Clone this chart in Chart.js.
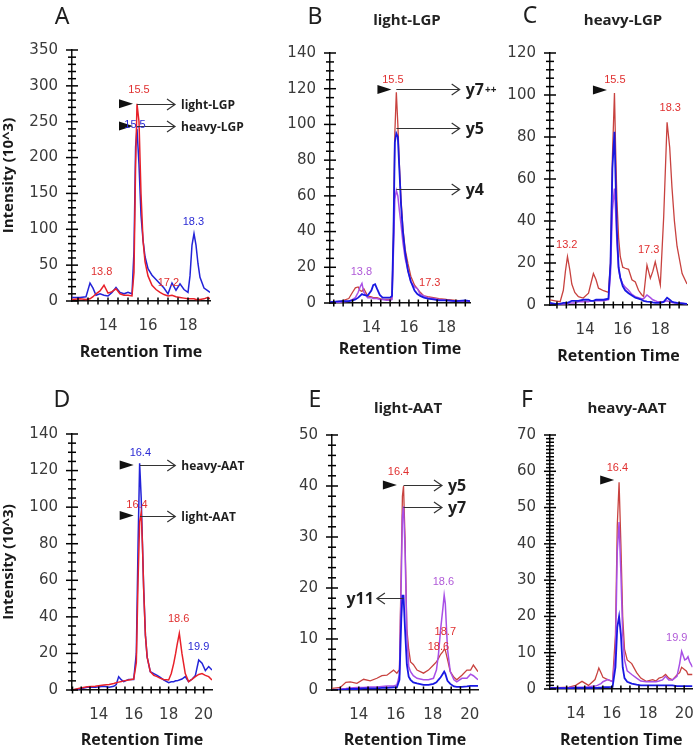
<!DOCTYPE html>
<html>
<head>
<meta charset="utf-8">
<script src="https://cdn.jsdelivr.net/npm/chart.js@4.4.0/dist/chart.umd.min.js"></script>
<style>
  body { margin: 0; background: #fff; }
  canvas { position: absolute; }
  .letter { position: absolute; font: 23px "Noto Sans", sans-serif; color: #1e1e1e; transform: translate(-50%, -50%); line-height: 1; }
  .ptitle { position: absolute; font: bold 15px "Open Sans", sans-serif; color: #222; transform: translate(-50%, -50%); line-height: 1; white-space: nowrap; }
</style>
</head>
<body>
<canvas id="chartA"></canvas>
<canvas id="chartB"></canvas>
<canvas id="chartC"></canvas>
<canvas id="chartD"></canvas>
<canvas id="chartE"></canvas>
<canvas id="chartF"></canvas>
<div class="letter" style="left:62px;top:15px">A</div>
<div class="letter" style="left:315px;top:15px">B</div>
<div class="letter" style="left:530px;top:14px">C</div>
<div class="letter" style="left:62px;top:398px">D</div>
<div class="letter" style="left:315px;top:398px">E</div>
<div class="letter" style="left:527px;top:398px">F</div>
<div class="ptitle" style="left:407px;top:19px">light-LGP</div>
<div class="ptitle" style="left:623px;top:19px">heavy-LGP</div>
<div class="ptitle" style="left:408px;top:407px">light-AAT</div>
<div class="ptitle" style="left:627px;top:407px">heavy-AAT</div>
<script>
// ---- A: LGP, light vs heavy peptide
const timeA = [12.2, 12.6, 12.9, 13.1, 13.25, 13.4, 13.6, 13.8, 14.0, 14.2, 14.4, 14.6, 14.8, 15.0, 15.2, 15.3, 15.38, 15.45, 15.55, 15.65, 15.75, 15.85, 16.0, 16.2, 16.4, 16.6, 16.8, 17.0, 17.2, 17.4, 17.6, 17.8, 18.0, 18.1, 18.2, 18.3, 18.4, 18.5, 18.6, 18.8, 19.0, 19.1];
const lightA = [2, 3, 2, 3, 6, 10, 14, 22, 11, 13, 17, 10, 8, 8, 7, 40, 190, 275, 250, 150, 85, 55, 35, 22, 16, 12, 9, 7, 8, 6, 5, 4, 3, 3, 3, 3, 2, 2, 2, 3, 5, 3];
const heavyA = [5, 5, 6, 25, 18, 8, 10, 8, 7, 12, 19, 12, 10, 12, 10, 70, 215, 240, 190, 120, 85, 62, 45, 36, 30, 24, 18, 10, 25, 15, 24, 16, 12, 35, 78, 94, 78, 52, 33, 18, 14, 12];

// ---- B: light-LGP fragments
const timeB = [11.8, 12.4, 12.8, 13.0, 13.15, 13.3, 13.4, 13.5, 13.6, 13.8, 14.0, 14.1, 14.2, 14.3, 14.45, 14.6, 14.8, 15.0, 15.1, 15.18, 15.25, 15.33, 15.41, 15.49, 15.58, 15.68, 15.8, 15.95, 16.1, 16.3, 16.45, 16.6, 16.8, 17.0, 17.3, 17.6, 18.0, 18.5, 19.0, 19.25];
const y7ppB = [0.5, 1, 2.5, 6, 8.5, 9, 7, 6.5, 8, 4, 3.5, 3, 3, 3, 2.5, 2, 2, 2, 3, 40, 95, 118, 100, 78, 58, 42, 30, 22, 15, 10, 8, 6, 4, 3.5, 3, 2.5, 2, 1.5, 1, 1];
const y4B = [0, 0.5, 1, 2, 3, 6, 9, 11, 6, 3, 3, 2.5, 2.5, 2.5, 2, 2, 1.5, 1.5, 2, 30, 58, 63, 60, 52, 44, 34, 25, 18, 12, 9, 8, 5, 4, 3, 2.5, 2, 1.5, 1, 1, 1];
const y5B = [0.5, 1, 1, 1.5, 2, 3, 4, 5, 4.5, 4, 7, 10, 10.5, 8, 4.5, 3, 3, 3, 4, 40, 90, 95, 93, 75, 55, 40, 28, 18, 12, 7, 5, 4, 3, 2.5, 2, 1.5, 1.5, 1, 1.5, 1];

// ---- C: heavy-LGP fragments
const timeC = [12.13, 12.4, 12.67, 12.84, 12.95, 13.06, 13.18, 13.29, 13.45, 13.64, 13.9, 14.18, 14.3, 14.44, 14.58, 14.71, 14.98, 15.24, 15.35, 15.45, 15.56, 15.62, 15.69, 15.78, 15.87, 16.0, 16.13, 16.31, 16.49, 16.67, 16.84, 17.0, 17.11, 17.29, 17.47, 17.6, 17.73, 17.87, 18.0, 18.18, 18.36, 18.5, 18.62, 18.75, 18.89, 19.16, 19.42];
const redC = [2.4, 2, 1.6, 7, 16, 23, 17, 10, 6, 4, 3.3, 5.6, 10, 15, 12, 8, 6.8, 6, 20, 70, 101, 75, 50, 32, 23, 18, 17.5, 17, 12, 11, 7, 5, 4, 19, 12.7, 16, 20.6, 15, 9.5, 42, 87, 75, 56, 40, 28, 15, 10];
const purpleC = [0.5, 0.5, 0.5, 0.5, 0.5, 0.5, 1, 1, 1, 1.5, 1.5, 1.5, 2, 2, 2, 2, 2, 2.5, 15, 45, 55.5, 45, 30, 17, 13, 10, 8.5, 7, 5, 4, 3.5, 3, 3, 4.8, 3.5, 2.5, 2, 1.5, 1.5, 1.5, 2, 1.5, 1.2, 1, 1, 0.8, 0.5];
const blueC = [1, 0.5, 0.5, 1, 1, 1, 1.5, 2, 2, 2, 2.5, 2.5, 2, 2, 2.5, 2.5, 2.5, 3, 20, 65, 82.5, 60, 35, 18, 13, 9, 7, 5.6, 4.5, 3.5, 3, 2.5, 2, 1.6, 1.5, 1.2, 1, 1, 1, 1.5, 3.5, 2.5, 1.6, 1.2, 1, 0.8, 0.5];

// ---- D: AAT, light vs heavy peptide
const timeD = [12.47, 12.9, 13.34, 13.8, 14.29, 14.6, 14.86, 15.0, 15.14, 15.3, 15.43, 15.71, 16.0, 16.15, 16.25, 16.34, 16.43, 16.5, 16.57, 16.67, 16.77, 16.95, 17.15, 17.34, 17.5, 17.71, 18.0, 18.15, 18.29, 18.4, 18.48, 18.61, 18.76, 18.95, 19.14, 19.35, 19.53, 19.72, 19.91, 20.1, 20.29, 20.48];
const lightD = [0, 1, 1.8, 2, 2.7, 3, 3.6, 4, 4.3, 4.6, 5, 5.5, 6, 15, 60, 92, 97, 80, 55, 30, 18, 10, 8, 7.3, 6.5, 5.8, 5.5, 9, 14.6, 20, 24.6, 31, 20, 9, 4.6, 6, 7.3, 8.5, 9, 8, 7.3, 5.5];
const heavyD = [0, 0.5, 1.5, 1.5, 2, 1.5, 2, 3, 7.3, 5.5, 4.6, 5.8, 5.8, 20, 80, 124, 105, 80, 56, 30, 18, 10, 9, 8, 7, 5.5, 4, 4.5, 4.5, 5, 5, 5.5, 6, 7.3, 4.6, 6, 8, 16.4, 14.6, 10.6, 12.8, 10.9];

// ---- E: light-AAT fragments
const timeE = [12.55, 13.0, 13.3, 13.54, 13.9, 14.26, 14.62, 14.98, 15.25, 15.52, 15.88, 16.06, 16.2, 16.3, 16.36, 16.42, 16.5, 16.6, 16.7, 16.8, 16.95, 17.15, 17.5, 17.77, 18.04, 18.2, 18.31, 18.43, 18.55, 18.62, 18.68, 18.8, 18.95, 19.15, 19.3, 19.58, 19.85, 20.05, 20.2, 20.45];
const y5E = [0.3, 0.5, 1.5, 1.6, 1.3, 2.1, 1.8, 2.3, 2.8, 2.9, 3.9, 3.3, 4, 25, 38, 40, 30, 12, 8, 5.5, 5, 3.9, 3.3, 3.9, 4.9, 5.5, 6.2, 7, 7.5, 8, 7.8, 6, 3.6, 2.5, 2, 2.9, 3.9, 3.9, 4.9, 3.6];
const y7E = [0, 0.2, 0.3, 0.4, 0.5, 0.5, 0.6, 0.6, 0.7, 0.8, 0.8, 1, 3, 22, 34, 36, 28, 11, 4.6, 3.6, 2.8, 2.3, 2, 2, 2.3, 3.9, 7, 12, 16, 18.6, 17, 8, 3.6, 2, 1.6, 2.3, 2.3, 3.1, 2.8, 2];
const y11E = [0, 0, 0.1, 0.2, 0.2, 0.3, 0.3, 0.3, 0.4, 0.4, 0.5, 0.5, 2, 14, 18.5, 18.5, 12, 5, 2.6, 2, 1.5, 1.3, 1, 1, 1.2, 1.5, 2, 2.5, 3.2, 3.6, 3.2, 1.8, 1.2, 0.7, 0.6, 0.6, 0.7, 0.8, 0.8, 0.8];

// ---- F: heavy-AAT fragments
const timeF = [12.58, 13.0, 13.64, 14.0, 14.35, 14.71, 15.07, 15.2, 15.28, 15.4, 15.51, 15.77, 16.04, 16.2, 16.3, 16.4, 16.5, 16.6, 16.7, 16.85, 17.1, 17.37, 17.6, 17.9, 18.26, 18.44, 18.61, 18.8, 18.97, 19.15, 19.35, 19.6, 19.75, 19.86, 20.03, 20.13, 20.21, 20.3, 20.46];
const redF = [0.3, 0.4, 0.5, 1, 2.1, 1, 2.6, 4.5, 5.8, 4.5, 3.2, 2.6, 2.1, 15, 45, 57, 40, 20, 11, 8, 7, 4.5, 3, 2.1, 2.6, 2.2, 3, 3.3, 4, 3, 2.5, 3.9, 4.5, 6, 5.3, 4.9, 4, 4, 4];
const purpleF = [0.3, 0.3, 0.4, 0.5, 0.5, 0.6, 0.8, 1, 1.2, 1.5, 2, 2.6, 2, 10, 38, 46, 32, 15, 8, 5, 4, 3, 2.2, 2, 2, 2, 2.2, 2.5, 3.5, 2.5, 2.5, 3.5, 7, 10.4, 8, 8.3, 8.9, 7.5, 6];
const blueF = [0.2, 0.2, 0.2, 0.3, 0.3, 0.3, 0.3, 0.3, 0.4, 0.4, 0.5, 0.5, 0.6, 6, 17, 20, 15, 6, 3, 2, 1.5, 1.2, 1, 1, 1, 1, 1, 1, 1, 1, 1, 0.8, 0.8, 0.8, 0.8, 0.8, 0.8, 0.8, 0.8];

// tick labels
const xTicksLGP = [14, 16, 18];
const xTicksAAT = [14, 16, 18, 20];
const yTicksA = [0, 50, 100, 150, 200, 250, 300, 350];
const yTicksB = [0, 20, 40, 60, 80, 100, 120, 140];
const yTicksC = [0, 20, 40, 60, 80, 100, 120];
const yTicksD = [0, 20, 40, 60, 80, 100, 120, 140];
const yTicksE = [0, 10, 20, 30, 40, 50];
const yTicksF = [0, 10, 20, 30, 40, 50, 60, 70];

// peak annotations (retention time, intensity)
const peaksA = [[15.55, 294, '15.5', 'red'], [15.35, 246, '15.5', 'blue'], [13.68, 41, '13.8', 'red'], [17.02, 25.5, '17.2', 'red'], [18.27, 110, '18.3', 'blue']];
const peaksB = [[15.15, 125, '15.5', 'red'], [13.47, 17.5, '13.8', 'purple'], [17.11, 11, '17.3', 'red']];
const peaksC = [[15.58, 107, '15.5', 'red'], [13.02, 28.6, '13.2', 'red'], [17.38, 26.2, '17.3', 'red'], [18.53, 93.7, '18.3', 'red']];
const peaksD = [[16.38, 129.6, '16.4', 'blue'], [16.19, 101.3, '16.4', 'red'], [18.57, 38.7, '18.6', 'red'], [19.71, 23.7, '19.9', 'blue']];
const peaksE = [[16.15, 42.8, '16.4', 'red'], [18.58, 21.2, '18.6', 'purple'], [18.68, 11.4, '18.7', 'red'], [18.31, 8.5, '18.6', 'red']];
const peaksF = [[16.31, 60.8, '16.4', 'red'], [19.59, 14, '19.9', 'purple']];

// arrows: [from, to, intensity, text]
const arrowsA = [[15.45, 17.35, 275, 'light-LGP'], [15.45, 17.35, 244, 'heavy-LGP']];
const arrowsB = [[15.33, 18.7, 119.6, 'y7++'], [15.33, 18.7, 97.8, 'y5'], [15.33, 18.7, 63.6, 'y4']];
const arrowsD = [[16.36, 18.38, 123, 'heavy-AAT'], [16.36, 18.38, 95.4, 'light-AAT']];
const arrowsE = [[16.42, 18.5, 40.2, 'y5'], [16.42, 18.5, 35.8, 'y7'], [16.42, 14.98, 18.1, 'y11']];

// black flags marking the apex: [time of tip, intensity]
const flagsA = [[15.25, 275], [15.25, 244]];
const flagsB = [[15.07, 119.6]];
const flagsC = [[15.16, 102.4]];
const flagsD = [[16.0, 123], [16.0, 95.4]];
const flagsE = [[16.06, 40.2]];
const flagsF = [[16.13, 57.6]];

const LINE = { red: '#e8212a', blue: '#2323d8', red2: '#c8423f', purple: '#a84fe6', blue2: '#1818e2' };
const TXT = { red: '#e03030', blue: '#2a2ad4', red2: '#c94848', purple: '#b05ad8' };

function series(times, values, color, width) {
    return {
        data: times.map((t, i) => ({ x: t, y: values[i] })),
        borderColor: color, borderWidth: width, pointRadius: 0, tension: 0, fill: false
    };
}

// tick marks as line-shaped points sitting on the axes, so the library places them
function tickSets(p, yMax) {
    const below = -yMax * 7 / (p.area[3] - p.area[1]);
    const base = {
        showLine: false, clip: false, pointStyle: 'line',
        pointBorderColor: '#000', pointBackgroundColor: '#000', pointBorderWidth: 1.5,
        borderColor: '#000', pointHoverRadius: 0
    };
    return [
        Object.assign({}, base, {
            data: p.yAll.map(v => ({ x: p.xMin, y: v })),
            pointRadius: p.yAll.map(v => (p.yTicks.includes(v) ? 6 : 4))
        }),
        Object.assign({}, base, {
            data: p.xAll.map(t => ({ x: t, y: 0 })),
            pointRadius: 3.5, pointRotation: 90
        }),
        Object.assign({}, base, {
            data: p.xTicks.map(t => ({ x: t, y: below })),
            pointRadius: 4.5, pointRotation: 90
        })
    ];
}

function marksPlugin(p) {
    return {
        id: 'marks',
        afterDatasetsDraw(chart) {
            const { ctx } = chart;
            const sx = chart.scales.x, sy = chart.scales.y;
            ctx.save();
            ctx.fillStyle = '#111';
            (p.flags || []).forEach(([t, v]) => {
                const px = sx.getPixelForValue(t), py = sy.getPixelForValue(v);
                ctx.beginPath(); ctx.moveTo(px, py); ctx.lineTo(px - 14, py - 4.5); ctx.lineTo(px - 14, py + 4.5); ctx.closePath(); ctx.fill();
            });
            ctx.strokeStyle = '#333';
            ctx.lineWidth = 1.2;
            ctx.textBaseline = 'middle';
            (p.arrows || []).forEach(([from, to, v, text]) => {
                const x0 = sx.getPixelForValue(from), x1 = sx.getPixelForValue(to);
                const py = Math.round(sy.getPixelForValue(v)) + 0.5;
                const d = Math.sign(x1 - x0);
                ctx.beginPath();
                ctx.moveTo(x0, py); ctx.lineTo(x1, py);
                ctx.moveTo(x1 - 8 * d, py - 5.5); ctx.lineTo(x1, py); ctx.lineTo(x1 - 8 * d, py + 5.5);
                ctx.stroke();
                ctx.fillStyle = '#1e1e1e';
                ctx.textAlign = d > 0 ? 'left' : 'right';
                const tx = x1 + (d > 0 ? 6 : -3);
                if (text.endsWith('++')) {
                    const base = text.slice(0, -2);
                    ctx.font = p.arrowFont;
                    ctx.fillText(base, tx, py + 1);
                    const w = ctx.measureText(base).width;
                    ctx.font = 'bold 10px "Open Sans", sans-serif';
                    ctx.fillText('++', tx + w + 1, py + 1);
                } else {
                    ctx.font = p.arrowFont;
                    ctx.fillText(text, tx, py + 1);
                }
            });
            ctx.font = '11px "Liberation Sans Narrow", "Liberation Sans", sans-serif';
            ctx.textAlign = 'center';
            (p.peaks || []).forEach(([t, v, text, c]) => {
                ctx.fillStyle = TXT[c];
                ctx.fillText(text, sx.getPixelForValue(t), sy.getPixelForValue(v));
            });
            ctx.restore();
        }
    };
}

function makePanel(p) {
    const canvas = document.getElementById(p.id);
    const [L, T, W, H] = p.box;
    const [aL, aT, aR, aB] = p.area;
    const titleBottom = p.titleY + 8;
    const yW = aL - L, xH = titleBottom - aB;
    const yMax = p.yTicks[p.yTicks.length - 1];
    // every tick position, labelled or not
    p.yAll = [];
    for (let i = 0; i * p.yMinor <= yMax; i++) p.yAll.push(i * p.yMinor);
    p.xAll = [];
    for (let i = Math.ceil(p.xMin * 2); i <= Math.floor(p.xMax * 2); i++) p.xAll.push(i / 2);
    canvas.width = W; canvas.height = H;
    canvas.style.left = L + 'px'; canvas.style.top = T + 'px';
    const tickFont = { family: 'DejaVu Sans', size: 15 };
    return new Chart(canvas, {
        type: 'line',
        data: { datasets: tickSets(p, yMax).concat(p.datasets) },
        options: {
            responsive: false,
            animation: false,
            events: [],
            layout: { padding: { left: 1, top: aT - T, right: L + W - aR, bottom: T + H - titleBottom } },
            plugins: { legend: { display: false }, tooltip: { enabled: false } },
            scales: {
                x: {
                    type: 'linear', min: p.xMin, max: p.xMax,
                    afterBuildTicks: s => { s.ticks = p.xTicks.map(v => ({ value: v })); },
                    afterFit: s => { s.height = xH; s.paddingLeft = 0; s.paddingRight = 0; },
                    grid: { display: false, drawTicks: false },
                    border: { display: true, color: '#111', width: 1.5 },
                    ticks: { padding: 16, color: '#3a3a3a', font: tickFont, maxRotation: 0, autoSkip: false },
                    title: { display: true, text: 'Retention Time', color: '#1a1a1a', padding: 0,
                             font: { family: 'Open Sans', size: 16, weight: 'bold', lineHeight: 1 } }
                },
                y: {
                    type: 'linear', min: 0, max: yMax,
                    afterBuildTicks: s => { s.ticks = p.yTicks.map(v => ({ value: v })); },
                    afterFit: s => { s.width = yW - 1; s.paddingTop = 0; s.paddingBottom = 0; },
                    grid: { display: false, drawTicks: false },
                    border: { display: true, color: '#111', width: 1.5 },
                    ticks: { padding: 14, color: '#3a3a3a', font: tickFont, autoSkip: false },
                    title: { display: !!p.yTitle, text: p.yTitle || '', color: '#1a1a1a', padding: 0,
                             font: { family: 'Open Sans', size: 15, weight: 'bold', lineHeight: 1 } }
                }
            }
        },
        plugins: [marksPlugin(p)]
    });
}

const bigArrow = 'bold 12px "Open Sans", sans-serif';
const ionArrow = 'bold 16px "Open Sans", sans-serif';

makePanel({
    id: 'chartA', box: [0, 0, 262, 370], area: [72, 50, 210, 301], titleY: 352,
    xMin: 12.2, xMax: 19.1, xTicks: xTicksLGP, yTicks: yTicksA, yMinor: 10,
    yTitle: 'Intensity (10^3)',
    datasets: [series(timeA, lightA, LINE.red, 1.5), series(timeA, heavyA, LINE.blue, 1.5)],
    peaks: peaksA, arrows: arrowsA, flags: flagsA, arrowFont: bigArrow
});
makePanel({
    id: 'chartB', box: [245, 0, 262, 370], area: [330, 53, 470, 303], titleY: 349,
    xMin: 11.8, xMax: 19.25, xTicks: xTicksLGP, yTicks: yTicksB, yMinor: 5,
    datasets: [series(timeB, y5B, LINE.blue2, 1.8), series(timeB, y4B, LINE.purple, 1.5), series(timeB, y7ppB, LINE.red2, 1.3)],
    peaks: peaksB, arrows: arrowsB, flags: flagsB, arrowFont: ionArrow
});
makePanel({
    id: 'chartC', box: [490, 0, 210, 370], area: [550, 53, 687, 305], titleY: 356,
    xMin: 12.13, xMax: 19.42, xTicks: xTicksLGP, yTicks: yTicksC, yMinor: 4,
    datasets: [series(timeC, blueC, LINE.blue2, 1.8), series(timeC, purpleC, LINE.purple, 1.5), series(timeC, redC, LINE.red2, 1.3)],
    peaks: peaksC, flags: flagsC, arrowFont: ionArrow
});
makePanel({
    id: 'chartD', box: [0, 370, 262, 378], area: [72, 434, 212, 690], titleY: 740,
    xMin: 12.47, xMax: 20.48, xTicks: xTicksAAT, yTicks: yTicksD, yMinor: 5,
    yTitle: 'Intensity (10^3)',
    datasets: [series(timeD, lightD, LINE.red, 1.5), series(timeD, heavyD, LINE.blue, 1.5)],
    peaks: peaksD, arrows: arrowsD, flags: flagsD, arrowFont: bigArrow
});
makePanel({
    id: 'chartE', box: [245, 370, 262, 378], area: [332, 435, 478, 690], titleY: 740,
    xMin: 12.55, xMax: 20.45, xTicks: xTicksAAT, yTicks: yTicksE, yMinor: 2,
    datasets: [series(timeE, y11E, LINE.blue2, 1.8), series(timeE, y7E, LINE.purple, 1.5), series(timeE, y5E, LINE.red2, 1.3)],
    peaks: peaksE, arrows: arrowsE, flags: flagsE, arrowFont: ionArrow
});
makePanel({
    id: 'chartF', box: [490, 370, 210, 378], area: [550, 435, 698, 689], titleY: 740,
    xMin: 12.58, xMax: 20.46, xTicks: xTicksAAT, yTicks: yTicksF, yMinor: 1,
    datasets: [series(timeF, blueF, LINE.blue2, 1.8), series(timeF, purpleF, LINE.purple, 1.5), series(timeF, redF, LINE.red2, 1.3)],
    peaks: peaksF, flags: flagsF, arrowFont: ionArrow
});
</script>
</body>
</html>
